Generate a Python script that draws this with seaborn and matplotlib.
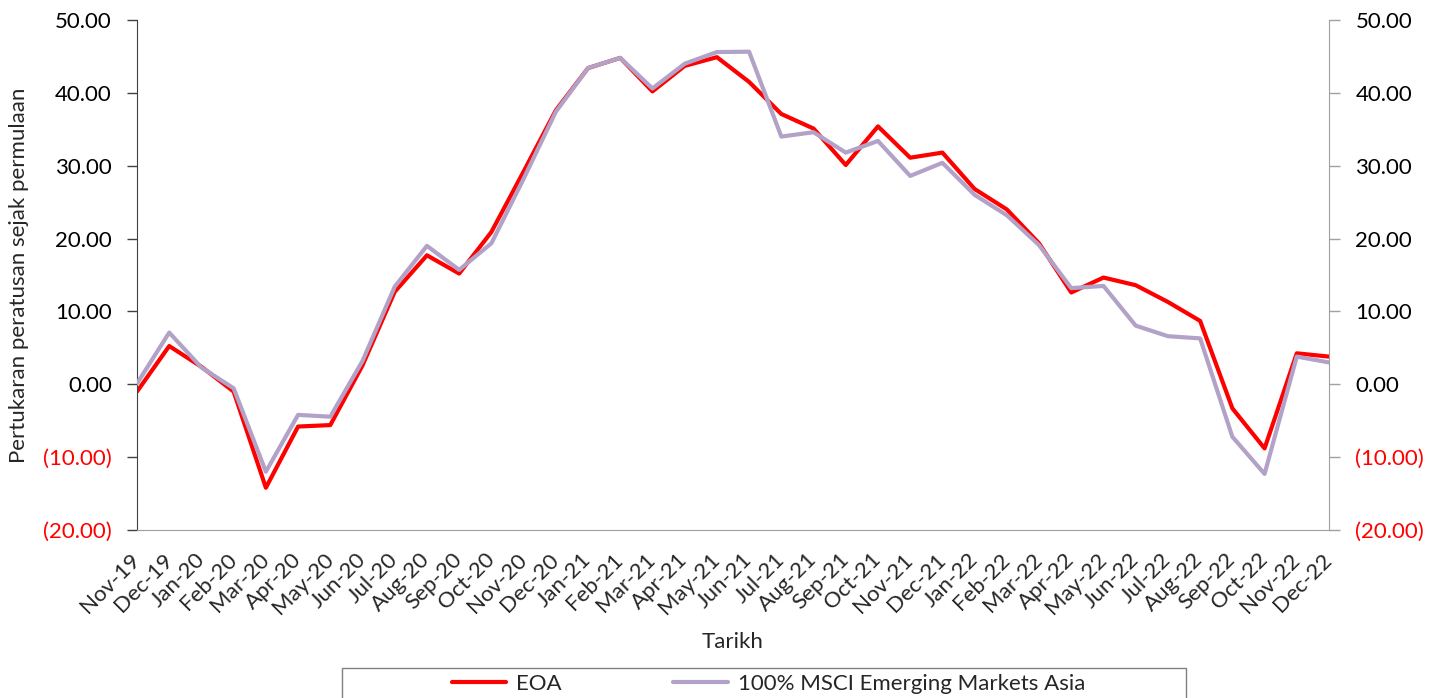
import matplotlib
matplotlib.use("Agg")
import matplotlib.pyplot as plt
import seaborn as sns
import pandas as pd
from matplotlib.ticker import FixedLocator
from matplotlib.patches import Rectangle

months = ["Nov-19", "Dec-19", "Jan-20", "Feb-20", "Mar-20", "Apr-20", "May-20", "Jun-20",
          "Jul-20", "Aug-20", "Sep-20", "Oct-20", "Nov-20", "Dec-20", "Jan-21", "Feb-21",
          "Mar-21", "Apr-21", "May-21", "Jun-21", "Jul-21", "Aug-21", "Sep-21", "Oct-21",
          "Nov-21", "Dec-21", "Jan-22", "Feb-22", "Mar-22", "Apr-22", "May-22", "Jun-22",
          "Jul-22", "Aug-22", "Sep-22", "Oct-22", "Nov-22", "Dec-22"]

eoa = [-1.0, 5.25, 2.4, -1.0, -14.2, -5.8, -5.6, 2.6,
       12.7, 17.7, 15.2, 20.9, 29.2, 37.6, 43.4, 44.8,
       40.2, 43.7, 44.9, 41.5, 37.1, 35.1, 30.1, 35.4,
       31.1, 31.8, 26.8, 24.0, 19.35, 12.6, 14.65, 13.6,
       11.3, 8.7, -3.3, -8.8, 4.25, 3.8]

msci = [0.1, 7.1, 2.3, -0.55, -12.0, -4.2, -4.45, 3.2,
        13.4, 19.0, 15.7, 19.35, 28.2, 37.4, 43.4, 44.8,
        40.6, 44.0, 45.6, 45.65, 34.0, 34.6, 31.8, 33.4,
        28.6, 30.4, 26.0, 23.2, 19.1, 13.2, 13.5, 8.05,
        6.6, 6.3, -7.2, -12.3, 3.8, 3.0]

series_names = ["EOA", "100% MSCI Emerging Markets Asia"]
series_colors = ["#FF0000", "#B3A2C7"]
y_ticks = [-20, -10, 0, 10, 20, 30, 40, 50]

df = pd.DataFrame({
    "idx": list(range(len(months))) * 2,
    "value": eoa + msci,
    "series": [series_names[0]] * len(months) + [series_names[1]] * len(months),
})

sns.set_style("white")
plt.rcParams["font.family"] = ["Lato", "DejaVu Sans"]
FS = 16

fig = plt.figure(figsize=(14.37, 6.98), dpi=100)
ax = fig.add_axes([137 / 1437, 1 - 530 / 698, (1329 - 137) / 1437, 510 / 698])

palette = dict(zip(series_names, series_colors))
sns.lineplot(data=df, x="idx", y="value", hue="series", palette=palette,
             hue_order=series_names, linewidth=3.0, ax=ax, legend=False, sort=False)
# purple series drawn on top of red, as in the reference
for ln in ax.lines:
    if ln.get_color() in ("#B3A2C7", "#b3a2c7"):
        ln.set_zorder(3)
    else:
        ln.set_zorder(2)

ax.set_xlim(0, len(months) - 1)
ax.set_ylim(-20, 50)
ax.set_xticks(range(len(months)))
ax.set_xticklabels(months, rotation=45, ha="right", va="center",
                   rotation_mode="anchor", fontsize=FS)
ax.tick_params(axis="x", length=0, pad=19)
ax.set_xlabel("Tarikh", fontsize=FS, labelpad=10)
ax.set_ylabel("Pertukaran peratusan sejak permulaan", fontsize=FS, labelpad=10)


def fmt(v):
    return f"({abs(v):.2f})" if v < 0 else f"{v:.2f}"


ax.yaxis.set_major_locator(FixedLocator(y_ticks))
ax.set_yticklabels([fmt(v) for v in y_ticks], fontsize=FS)
for lab, v in zip(ax.get_yticklabels(), y_ticks):
    lab.set_color("red" if v < 0 else "black")
ax.tick_params(axis="y", direction="out", length=7, width=1, color="#404040", pad=11, left=True)

ax2 = ax.twinx()
ax2.set_ylim(-20, 50)
ax2.yaxis.set_major_locator(FixedLocator(y_ticks))
ax2.set_yticklabels([fmt(v) for v in y_ticks], fontsize=FS)
for lab, v in zip(ax2.get_yticklabels(), y_ticks):
    lab.set_color("red" if v < 0 else "black")
ax2.tick_params(axis="y", direction="out", length=8, width=1, color="#A0A0A0", pad=11, right=True)

for a in (ax, ax2):
    for s in a.spines.values():
        s.set_visible(False)
ax.spines["left"].set_visible(True)
ax.spines["left"].set_color("#404040")
ax.spines["bottom"].set_visible(True)
ax.spines["bottom"].set_color("#A0A0A0")
ax2.spines["right"].set_visible(True)
ax2.spines["right"].set_color("#A0A0A0")

# legend frame (clipped by the bottom edge as in the reference)
fig.patches.append(Rectangle((342 / 1437, -0.05), (1186 - 342) / 1437, (1 - 668 / 698) + 0.05,
                             transform=fig.transFigure, fill=False,
                             edgecolor="#808080", linewidth=1.0))
handles = [plt.Line2D([], [], color=c, linewidth=3.0) for c in series_colors]
leg = fig.legend(handles, series_names, loc="upper left",
                 bbox_to_anchor=(452 / 1437, 1 - 674 / 698),
                 ncol=2, frameon=False, fontsize=FS,
                 handlelength=2.45, handletextpad=0.45, borderpad=0.0,
                 borderaxespad=0.0, columnspacing=5.0)

fig.savefig("out.png", dpi=100)
